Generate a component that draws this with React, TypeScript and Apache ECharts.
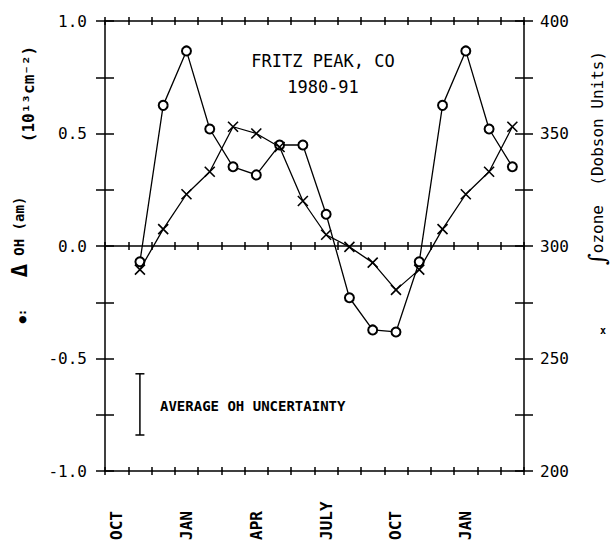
import React, { useEffect, useRef } from "react";
import * as echarts from "echarts";

// month categories along the x axis (18 months, Oct .. Mar)
const months = ["OCT", "NOV", "DEC", "JAN", "FEB", "MAR", "APR", "MAY", "JUN", "JULY", "AUG", "SEP", "OCT", "NOV", "DEC", "JAN", "FEB", "MAR"];
const labeledMonths = ["OCT", "JAN", "APR", "JULY"];

// mid-month positions of the monthly means (x axis in months from start of OCT)
const monthMid = [1.5, 2.5, 3.5, 4.5, 5.5, 6.5, 7.5, 8.5, 9.5, 10.5, 11.5, 12.5, 13.5, 14.5, 15.5, 16.5, 17.5];

// ΔOH (am), 10^13 cm^-2  (circles)
const ohValues = [-0.07, 0.625, 0.867, 0.52, 0.352, 0.316, 0.449, 0.449, 0.141, -0.23, -0.373, -0.382, -0.07, 0.625, 0.867, 0.52, 0.352];
// total ozone, Dobson units (crosses)
const ozoneValues = [289.5, 307.5, 323, 333, 353, 350, 344, 320, 305, 299.6, 292.6, 280.5, 289.5, 307.5, 323, 333, 353];

// average OH uncertainty bar: [x, center, half-length]
const uncertainty = [[1.5, -0.704, 0.136]];

const FONT = "DejaVu Sans Mono";
const BLACK = "#000";

export default function App() {
  const ref = useRef<HTMLDivElement>(null);
  useEffect(() => {
    if (!ref.current) return;
    const chart = echarts.init(ref.current, null, { renderer: "svg" });
    const axisLine = { show: true, onZero: false, lineStyle: { color: BLACK, width: 1.5 } };
    const tickStyle = { color: BLACK, width: 1.5 };
    const valX = (extra: any) => ({
      type: "value",
      min: 0,
      max: 18,
      interval: 1,
      axisLabel: { show: false },
      splitLine: { show: false },
      ...extra,
    });
    const option: any = {
      animation: false,
      backgroundColor: "#fff",
      grid: { left: 105, right: 90, top: 21, bottom: 77, containLabel: false },
      xAxis: [
        {
          type: "category",
          position: "bottom",
          data: months,
          boundaryGap: true,
          axisLine,
          axisTick: { show: true, inside: false, length: 4, interval: 0, lineStyle: tickStyle },
          axisLabel: {
            show: true,
            interval: 0,
            rotate: 90,
            align: "left",
            margin: 69,
            color: BLACK,
            fontFamily: FONT,
            fontSize: 16,
            fontWeight: "bold",
            formatter: (v: string) => (labeledMonths.includes(v) ? v : ""),
          },
          splitLine: { show: false },
        },
        valX({ position: "bottom", axisLine: { show: false, onZero: false }, axisTick: { show: true, inside: true, length: 4, lineStyle: tickStyle } }),
        valX({ position: "top", axisLine, axisTick: { show: true, inside: false, length: 4, lineStyle: tickStyle } }),
        valX({ position: "top", axisLine: { show: false, onZero: false }, axisTick: { show: true, inside: true, length: 4, lineStyle: tickStyle } }),
        valX({ position: "bottom", axisLine: { show: true, onZero: true, onZeroAxisIndex: 0, lineStyle: { color: BLACK, width: 1.5 } }, axisTick: { show: true, inside: false, length: 4, lineStyle: tickStyle } }),
        valX({ position: "bottom", axisLine: { show: false, onZero: true, onZeroAxisIndex: 0 }, axisTick: { show: true, inside: true, length: 4, lineStyle: tickStyle } }),
      ],
      yAxis: [
        {
          type: "value",
          position: "left",
          min: -1,
          max: 1,
          interval: 0.25,
          axisLine,
          axisTick: { show: true, inside: false, length: 9, lineStyle: tickStyle },
          axisLabel: {
            show: true,
            margin: 18,
            color: BLACK,
            fontFamily: FONT,
            fontSize: 16,
            formatter: (v: number) => (Math.abs((v * 2) % 1) < 1e-9 ? v.toFixed(1) : ""),
          },
          splitLine: { show: false },
        },
        {
          type: "value",
          position: "left",
          min: -1,
          max: 1,
          interval: 0.25,
          axisLine: { show: false, onZero: false },
          axisTick: { show: true, inside: true, length: 9, lineStyle: tickStyle },
          axisLabel: { show: false },
          splitLine: { show: false },
        },
        {
          type: "value",
          position: "right",
          min: 200,
          max: 400,
          interval: 25,
          axisLine,
          axisTick: { show: true, inside: false, length: 9, lineStyle: tickStyle },
          axisLabel: {
            show: true,
            margin: 16,
            color: BLACK,
            fontFamily: FONT,
            fontSize: 16,
            formatter: (v: number) => (v % 50 === 0 ? String(v) : ""),
          },
          splitLine: { show: false },
        },
        {
          type: "value",
          position: "right",
          min: 200,
          max: 400,
          interval: 25,
          axisLine: { show: false, onZero: false },
          axisTick: { show: true, inside: true, length: 9, lineStyle: tickStyle },
          axisLabel: { show: false },
          splitLine: { show: false },
        },
      ],
      series: [
        {
          name: "OH",
          type: "line",
          xAxisIndex: 1,
          yAxisIndex: 0,
          data: monthMid.map((x, i) => [x, ohValues[i]]),
          symbol: "emptyCircle",
          symbolSize: 9,
          showAllSymbol: true,
          lineStyle: { color: BLACK, width: 1.3 },
          itemStyle: { color: BLACK, borderColor: BLACK, borderWidth: 1.6 },
          z: 3,
        },
        {
          name: "Ozone",
          type: "line",
          xAxisIndex: 1,
          yAxisIndex: 2,
          data: monthMid.map((x, i) => [x, ozoneValues[i]]),
          symbol: "path://M0,0L10,10M10,0L0,10",
          symbolSize: 10,
          showAllSymbol: true,
          lineStyle: { color: BLACK, width: 1.3 },
          itemStyle: { color: BLACK, borderColor: BLACK, borderWidth: 1.6 },
          z: 4,
        },
        {
          name: "Uncertainty",
          type: "custom",
          xAxisIndex: 1,
          yAxisIndex: 0,
          data: uncertainty,
          renderItem: (_p: any, api: any) => {
            const x = api.value(0);
            const c = api.value(1);
            const e = api.value(2);
            const top = api.coord([x, c + e]);
            const bot = api.coord([x, c - e]);
            const cap = 4.5;
            const st = { stroke: BLACK, lineWidth: 1.5 };
            return {
              type: "group",
              children: [
                { type: "line", shape: { x1: top[0], y1: top[1], x2: bot[0], y2: bot[1] }, style: st },
                { type: "line", shape: { x1: top[0] - cap, y1: top[1], x2: top[0] + cap, y2: top[1] }, style: st },
                { type: "line", shape: { x1: bot[0] - cap, y1: bot[1], x2: bot[0] + cap, y2: bot[1] }, style: st },
              ],
            };
          },
        },
      ],
      graphic: [
        {
          type: "text",
          x: 323,
          y: 61,
          style: { text: "FRITZ PEAK, CO", fill: BLACK, font: `17px '${FONT}'`, align: "center", verticalAlign: "middle" },
        },
        {
          type: "text",
          x: 323,
          y: 87,
          style: { text: "1980-91", fill: BLACK, font: `17px '${FONT}'`, align: "center", verticalAlign: "middle" },
        },
        {
          type: "text",
          x: 160,
          y: 406,
          style: { text: "AVERAGE OH UNCERTAINTY", fill: BLACK, font: `bold 14px '${FONT}'`, align: "left", verticalAlign: "middle" },
        },
        {
          type: "text",
          x: 19,
          y: 237,
          rotation: Math.PI / 2,
          style: {
            text: "{d|Δ}{t| OH (am)}",
            align: "center",
            verticalAlign: "middle",
            fill: BLACK,
            rich: {
              d: { fontFamily: FONT, fontSize: 22, fontWeight: "bold", fill: BLACK },
              t: { fontFamily: FONT, fontSize: 14, fontWeight: "bold", fill: BLACK },
            },
          },
        },
        {
          type: "text",
          x: 28,
          y: 94,
          rotation: Math.PI / 2,
          style: { text: "(10¹³cm⁻²)", fill: BLACK, font: `bold 16px '${FONT}'`, align: "center", verticalAlign: "middle" },
        },
        {
          type: "text",
          x: 22,
          y: 316,
          rotation: Math.PI / 2,
          style: { text: "●:", fill: BLACK, font: `bold 12px '${FONT}'`, align: "center", verticalAlign: "middle" },
        },
        {
          type: "text",
          x: 597,
          y: 158,
          rotation: Math.PI / 2,
          style: {
            text: "{i|∫}{t|ozone  (Dobson Units)}",
            align: "center",
            verticalAlign: "middle",
            fill: BLACK,
            rich: {
              i: { fontFamily: "DejaVu Serif", fontSize: 23, lineHeight: 24, fill: BLACK },
              t: { fontFamily: FONT, fontSize: 16, lineHeight: 24, fill: BLACK },
            },
          },
        },
        {
          type: "text",
          x: 603,
          y: 330,
          style: { text: "x", fill: BLACK, font: `bold 10px '${FONT}'`, align: "center", verticalAlign: "middle" },
        },
      ],
    };
    chart.setOption(option);
    return () => chart.dispose();
  }, []);
  return <div ref={ref} style={{ position: "fixed", left: 0, top: 0, width: 614, height: 548, background: "#fff" }} />;
}
